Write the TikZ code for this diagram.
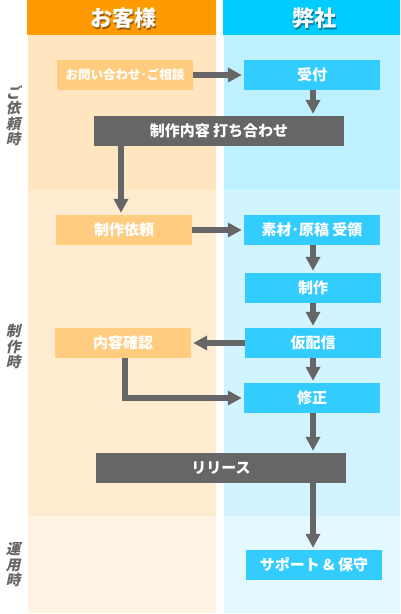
\documentclass[tikz,border=0pt]{standalone}
\usepackage{fontspec}
\newfontfamily\jp{Noto Sans CJK JP}
\newfontfamily\jpsl[FakeSlant=0.22]{Noto Sans CJK JP}
\usetikzlibrary{arrows.meta,calc}
\definecolor{hdorange}{HTML}{FF9A00}
\definecolor{hdblue}{HTML}{00CCFF}
\definecolor{lo1}{HTML}{FFE5C0}
\definecolor{lo2}{HTML}{FFEBD0}
\definecolor{lo3}{HTML}{FFF3E3}
\definecolor{lb1}{HTML}{BFF0FF}
\definecolor{lb2}{HTML}{D2F4FF}
\definecolor{lb3}{HTML}{E3F8FF}
\definecolor{obox}{HTML}{FFCC80}
\definecolor{bbox}{HTML}{33CCFF}
\definecolor{dgray}{HTML}{666666}
\begin{document}
\begin{tikzpicture}[x=1pt,y=-1pt,
  basebox/.style={rectangle,inner sep=0pt,text=white,font=\jp\bfseries\fontsize{15}{17}\selectfont,minimum height=30pt},
  orangebox/.style={basebox,fill=obox,minimum width=136pt},
  bluebox/.style={basebox,fill=bbox,minimum width=136pt},
  darkbox/.style={basebox,fill=dgray,minimum width=250pt},
  flow/.style={draw=dgray,line width=5.5pt,-{Triangle[width=14pt,length=14pt]},shorten >=2pt},
  sidelabel/.style={align=center,inner sep=0pt,text=dgray,font=\jpsl\bfseries\fontsize{14.5}{15.5}\selectfont},
  headtext/.style={text=white,font=\jp\bfseries\fontsize{22}{24}\selectfont,inner sep=0pt}
]
\useasboundingbox (0,0) rectangle (400,614);
\fill[white] (0,0) rectangle (400,614);
% backgrounds
\fill[lo1] (28,35) rectangle (216,190);
\fill[lo2] (28,190) rectangle (216,516);
\fill[lo3] (28,516) rectangle (216,613);
\fill[lb1] (224,35) rectangle (400,190);
\fill[lb2] (224,190) rectangle (400,516);
\fill[lb3] (224,516) rectangle (400,613);
% headers
\fill[hdorange] (27,0) rectangle (216,34.5);
\fill[hdblue] (223,0) rectangle (400,34.5);
\node[headtext,text=black,opacity=0.4] at (124.8,19.8) {お客様};
\node[headtext] (hcust) at (123,18) {お客様};
\node[headtext,text=black,opacity=0.4] at (315.8,19.8) {弊社};
\node[headtext] (hcomp) at (314,18) {弊社};
% side labels
\node[sidelabel] (p1) at (13,116) {ご\\依\\頼\\時};
\node[sidelabel] (p2) at (13,347) {制\\作\\時};
\node[sidelabel] (p3) at (13,565) {運\\用\\時};
% boxes
\node[orangebox,font=\jp\bfseries\fontsize{12.5}{14}\selectfont] (ask) at (125,75) {お問い合わせ･ご相談};
\node[bluebox] (uke) at (312,75) {受付};
\node[darkbox] (mtg) at (219,131) {制作内容 打ち合わせ};
\node[orangebox] (irai) at (124,230) {制作依頼};
\node[bluebox] (sozai) at (312,230) {素材･原稿 受領};
\node[bluebox] (seisaku) at (313,288) {制作};
\node[bluebox] (kari) at (313,343) {仮配信};
\node[orangebox] (kakunin) at (123,343) {内容確認};
\node[bluebox] (shusei) at (312,398) {修正};
\node[darkbox] (release) at (221,468) {リリース};
\node[bluebox] (support) at (314,565) {サポート \& 保守};
% connectors
\coordinate (c1) at ($(irai.north)+(-3,0)$);
\coordinate (c2) at ($(kakunin.south)+(2,0)$);
\coordinate (c3) at (313,0);
\draw[flow] (ask.east) -- (uke.west);
\draw[flow] (c3 |- uke.south) -- (c3 |- mtg.north);
\draw[flow] (c1 |- mtg.south) -- (c1);
\draw[flow] (irai.east) -- (sozai.west);
\draw[flow] (c3 |- sozai.south) -- (c3 |- seisaku.north);
\draw[flow] (c3 |- seisaku.south) -- (c3 |- kari.north);
\draw[flow] (kari.west) -- (kakunin.east);
\draw[flow] (c2) |- (shusei.west);
\draw[flow] (c3 |- kari.south) -- (c3 |- shusei.north);
\draw[flow] (c3 |- shusei.south) -- (c3 |- release.north);
\draw[flow] (c3 |- release.south) -- (c3 |- support.north);
\end{tikzpicture}
\end{document}
